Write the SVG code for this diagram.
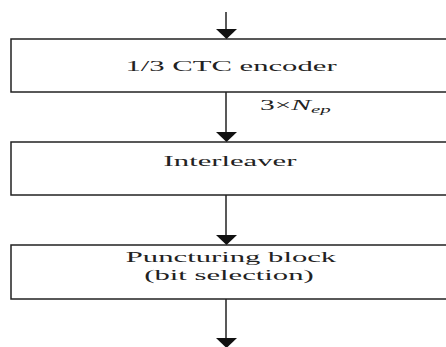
<svg xmlns="http://www.w3.org/2000/svg" width="446" height="347" viewBox="0 0 446 347">
<style>
.box{fill:#fff;stroke:#222;stroke-width:1.5}
.t{font-family:"Liberation Serif","Times New Roman",serif;font-size:15.5px;fill:#222;text-anchor:middle}
.l{font-family:"Liberation Serif","Times New Roman",serif;font-size:14px;fill:#222}
.c{stroke:#222;stroke-width:1.5;fill:none}
.h{fill:#111}
</style>
<rect width="446" height="347" fill="#fff"/>
<g id="encoder">
<rect class="box" x="11" y="39" width="460" height="53"/>
<text class="t" transform="translate(231,71) scale(1.98,1)">1/3 CTC encoder</text>
</g>
<g id="interleaver">
<rect class="box" x="11" y="142" width="460" height="53"/>
<text class="t" transform="translate(230,166) scale(1.98,1)">Interleaver</text>
</g>
<g id="puncturing">
<rect class="box" x="11" y="245" width="460" height="54"/>
<text class="t" transform="translate(231,262) scale(1.98,1)">Puncturing block</text>
<text class="t" transform="translate(229,280) scale(1.98,1)">(bit selection)</text>
</g>
<g id="connectors">
<line class="c" x1="226" y1="12" x2="226" y2="30"/>
<path class="h" d="M216,29 L237,29 L226.5,39 Z"/>
<line class="c" x1="226" y1="92" x2="226" y2="133"/>
<path class="h" d="M216,132 L237,132 L226.5,142 Z"/>
<line class="c" x1="226" y1="195" x2="226" y2="236"/>
<path class="h" d="M216,235 L237,235 L226.5,245 Z"/>
<line class="c" x1="226" y1="299" x2="226" y2="339"/>
<path class="h" d="M216,338 L237,338 L226.5,348 Z"/>
<text class="l" transform="translate(260,110) scale(2.1,1)">3×<tspan font-style="italic">N</tspan><tspan font-style="italic" font-size="10" dy="3">ep</tspan></text>
</g>
</svg>
